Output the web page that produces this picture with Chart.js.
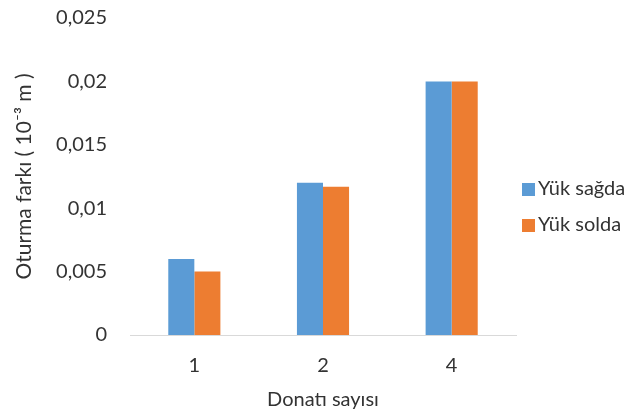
<!DOCTYPE html>
<html>
<head>
<meta charset="utf-8">
<script src="https://cdn.jsdelivr.net/npm/chart.js@4.4.1/dist/chart.umd.min.js"></script>
<style>
  html, body { margin: 0; padding: 0; background: #ffffff; }
  #wrap { width: 633px; height: 414px; position: relative; }
</style>
</head>
<body>
<div id="wrap"><canvas id="c" width="633" height="414"></canvas></div>
<script>
// Settlement difference for each reinforcement count
const categories = ['1', '2', '4'];
const seriesNames = ['Yük sağda', 'Yük solda'];
const loadRight = [0.006, 0.012, 0.020];
const loadLeft = [0.005, 0.0117, 0.020];
const yTicks = [0, 0.005, 0.01, 0.015, 0.02, 0.025];

const xTitle = 'Donatı sayısı';
const yTitle = 'Oturma farkı ( 10⁻³ m )';

const BLUE = '#5B9BD5';
const ORANGE = '#ED7D31';
const TEXT = '#333333';
const FONT = 'Lato, "Open Sans", sans-serif';

// Decimal comma as used in the labels
const fmt = v => String(v).replace('.', ',');

// Legend drawn at the right, beside the plot
const sideLegend = {
  id: 'sideLegend',
  afterDraw(chart) {
    const ctx = chart.ctx;
    ctx.save();
    ctx.font = '20px ' + FONT;
    ctx.textBaseline = 'middle';
    ctx.textAlign = 'left';
    chart.data.datasets.forEach((ds, i) => {
      const y = 189 + i * 36;
      ctx.fillStyle = ds.backgroundColor;
      ctx.fillRect(522, y - 6, 13, 13);
      ctx.fillStyle = TEXT;
      ctx.fillText(ds.label, 538, y);
    });
    ctx.restore();
  }
};

new Chart(document.getElementById('c'), {
  type: 'bar',
  data: {
    labels: categories,
    datasets: [
      { label: seriesNames[0], data: loadRight, backgroundColor: BLUE },
      { label: seriesNames[1], data: loadLeft, backgroundColor: ORANGE }
    ]
  },
  options: {
    responsive: false,
    animation: false,
    layout: { padding: { top: 18, right: 117, bottom: 0, left: 0 } },
    datasets: {
      bar: { categoryPercentage: 0.405, barPercentage: 1.0 }
    },
    plugins: {
      legend: { display: false },
      tooltip: { enabled: false }
    },
    scales: {
      x: {
        grid: { display: false, drawTicks: false },
        border: { display: true, color: '#D9D9D9', width: 1 },
        ticks: { color: TEXT, font: { family: FONT, size: 20 }, padding: 19 },
        title: {
          display: true, text: xTitle, color: TEXT,
          font: { family: FONT, size: 20 }, padding: { top: 0, bottom: 2 }
        },
        afterFit(scale) { scale.height = 79; }
      },
      y: {
        min: 0, max: 0.025,
        grid: { display: false, drawTicks: false },
        border: { display: false },
        afterBuildTicks(scale) { scale.ticks = yTicks.map(v => ({ value: v })); },
        ticks: {
          color: TEXT, font: { family: FONT, size: 20 }, padding: 23,
          callback: v => fmt(v)
        },
        title: {
          display: true, text: yTitle, color: TEXT,
          font: { family: FONT, size: 21 }, padding: { top: 12, bottom: 0 }
        },
        afterFit(scale) {
          scale.width = 130;
          scale.paddingTop = 0;
          scale.paddingBottom = 0;
        }
      }
    }
  },
  plugins: [sideLegend]
});
</script>
</body>
</html>
